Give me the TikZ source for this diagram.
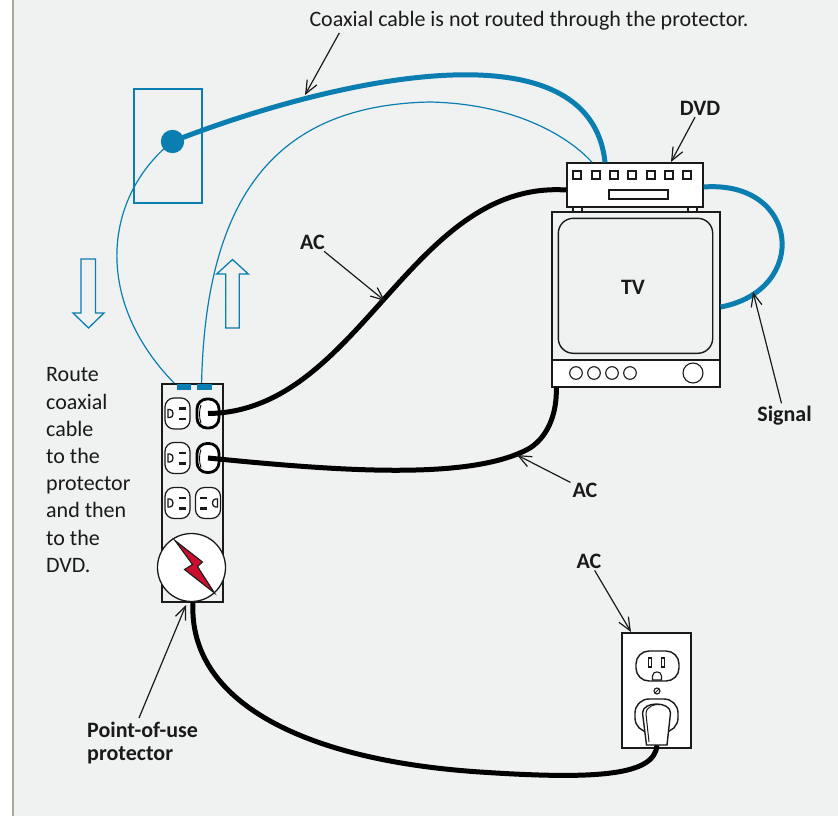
\documentclass[tikz,border=0pt]{standalone}
\usepackage{fontspec}
\setmainfont{Carlito}
\usetikzlibrary{arrows.meta}
\definecolor{paper}{HTML}{F0F2F1}
\definecolor{rule}{HTML}{ADA795}
\definecolor{coax}{HTML}{0A7DB1}
\definecolor{ink}{HTML}{1A1A1A}
\definecolor{boltred}{HTML}{C8102E}

\begin{document}
\begin{tikzpicture}[x=1pt,y=-1pt,
  every node/.style={text=ink},
  lbl/.style={font=\fontsize{22}{24}\selectfont\bfseries, inner sep=2pt},
  txt/.style={font=\fontsize{22}{27.2}\selectfont, inner sep=0pt},
  callout/.style={draw=ink, line width=1.2pt, -{Straight Barb[length=13pt,width=11pt]}},
  accable/.style={draw=black, line width=5pt},
  coaxcable/.style={draw=coax, line width=5pt},
  coaxthin/.style={draw=coax, line width=1.2pt},
  hollow/.style={draw=coax, line width=1.3pt, fill=paper, line join=miter},
  box/.style={draw=ink, line width=1.4pt},
  socket/.style={draw=ink, line width=1.2pt, fill=white, rounded corners=9pt,
    minimum width=25pt, minimum height=31pt, inner sep=0pt},
  plug/.style={draw=black, line width=2.8pt, fill=white, rounded corners=10pt,
    minimum width=22pt, minimum height=29pt, inner sep=0pt},
  pins/.pic={
    \fill[ink] (1,-6.5) rectangle (8.5,-4);
    \fill[ink] (1,4) rectangle (8.5,6.5);
    \draw[ink, line width=1.3pt] (-9.5,-4) -- (-9.5,4) -- (-7.5,4)
      .. controls (-3.5,4) and (-3.5,-4) .. (-7.5,-4) -- cycle;
  },
]
\useasboundingbox (0,0) rectangle (838,816);

% page
\fill[white] (0,0) rectangle (838,816);
\fill[paper] (13,0) rectangle (838,816);
\draw[rule, line width=1.5pt] (13,0) -- (13,816);

% devices: DVD player and TV
\draw[box, fill=white] (573,207) rectangle (582,212);
\draw[box, fill=white] (688,207) rectangle (697,212);
\node[box, fill=white, minimum width=136pt, minimum height=44pt, inner sep=0pt] (dvd) at (635,185) {};
\foreach \sx in {577,596,614,632,651,669,687}
  \draw[ink, line width=1.1pt] ({\sx-4},171) rectangle ({\sx+4},179);
\draw[ink, line width=1.1pt] (609,190) rectangle (668,199);

\node[box, fill=paper, minimum width=168pt, minimum height=175pt, inner sep=0pt] (tv) at (636,299.5) {};
\draw[box] [rounded corners=15pt] (558.3,218.3) rectangle (712.7,353.3);
\draw[box, fill=white] (552,360) rectangle (720,387);
\foreach \bx in {576,594,612,630}
  \draw[ink, line width=1.1pt] (\bx,373) circle[radius=6.3pt];
\draw[ink, line width=1.1pt] (693,373) circle[radius=10pt];
\node[lbl, anchor=base] (tvlbl) at (633,294) {TV};

% coaxial wall jack and the two thin route lines
\node[inner sep=0pt, minimum size=1pt] (tabA) at (184,387) {};
\node[inner sep=0pt, minimum size=1pt] (tabB) at (204.5,387) {};
\node[draw=coax, line width=1.6pt, minimum width=68pt, minimum height=114pt, inner sep=0pt] (plate) at (168,146) {};
\coordinate (jackc) at (172.5,141.5);
\draw[coaxthin] (jackc) .. controls (105,195) and (90,300) .. ([xshift=-6pt]tabA.center);
\draw[coaxthin] ([xshift=-3pt]tabB.center) .. controls (205,185) and (285,105) .. (430,102)
  .. controls (520,104) and (572,140) .. ([xshift=-43pt]dvd.north);
\draw[coaxcable] (jackc) .. controls (330,80) and (590,20) .. ([xshift=-30pt]dvd.north);
\node[circle, fill=coax, minimum size=23.4pt, inner sep=0pt] (jack) at (jackc) {};

% direction arrows
\draw[hollow] (81,259) -- (95.5,259) -- (95.5,313) -- (104,313) -- (88.5,328)
  -- (73,313) -- (81,313) -- cycle;
\draw[hollow] (225.7,328) -- (239.3,328) -- (239.3,274) -- (248.3,274) -- (232.5,259.5)
  -- (216.7,274) -- (225.7,274) -- cycle;

% point-of-use protector strip
\node[box, fill=paper, minimum width=61pt, minimum height=218pt, inner sep=0pt] (strip) at (192.5,493) {};
\fill[coax] (177,384) rectangle (191,390);
\fill[coax] (197,384) rectangle (212,390);
\node[socket] (sockA) at (177.5,413.5) {};
\node[socket] (sockB) at (177.5,458) {};
\node[socket] (sockC) at (177.5,503) {};
\node[socket] (sockD) at (208,503) {};
\pic at (sockA.center) {pins};
\pic at (sockB.center) {pins};
\pic at (sockC.center) {pins};
\pic[xscale=-1] at (sockD.center) {pins};
\node[plug] (plugA) at (208,413.5) {};
\node[plug] (plugB) at (208,458) {};
\draw[black, line width=0.9pt] (201,405) .. controls (199,410) and (199,418) .. (201,423);
\draw[black, line width=0.9pt] (201,449.5) .. controls (199,454.5) and (199,462.5) .. (201,467.5);
\node[circle, draw=ink, line width=1.3pt, fill=white, minimum size=68pt, inner sep=0pt] (surge) at (191.5,567.5) {};
\draw[ink, line width=1.1pt, fill=boltred, line join=miter]
  (175,540.5) -- (202.5,562) -- (197.5,566.5) -- (214.5,593) -- (184.5,569.5) -- (192.5,564.5) -- cycle;

% wall outlet
\node[box, fill=white, minimum width=69pt, minimum height=115pt, inner sep=0pt] (wall) at (656.5,690.5) {};
\draw[box, rounded corners=13pt] (636,651) rectangle (679,681);
\draw[ink, line width=1.1pt] (648.5,658) rectangle (651.5,667);
\draw[ink, line width=1.1pt] (661.5,658) rectangle (664.5,667);
\draw[ink, line width=1.1pt] (652.5,680) -- (652.5,676) .. controls (652.5,670.5) and (661.5,670.5) .. (661.5,676) -- (661.5,680) -- cycle;
\draw[ink, line width=1.1pt] (657,691) circle[radius=3pt];
\draw[ink, line width=1pt] (655,693) -- (659,689);
\draw[box, rounded corners=14pt] (635,699) rectangle (678,732);

% power and signal cables
\coordinate (wallplug) at (657,745);
\draw[accable] (plugA.center) .. controls (360,412) and (410,180) .. ([yshift=-5pt]dvd.west);
\draw[accable] (plugB.center) .. controls (330,470) and (470,482) .. (530,448)
  .. controls (550,435) and (557,410) .. ([xshift=5pt]tv.south west);
\draw[accable] ([xshift=1.5pt]surge.south) .. controls (188,700) and (300,760) .. (480,772)
  .. controls (600,780) and (655,775) .. (wallplug);
\draw[coaxcable] ([yshift=-2pt]dvd.east) .. controls (800,180) and (810,290) .. ([yshift=-7.5pt]tv.east);

% plug in the wall outlet
\draw[box, fill=white] (646.5,745) -- (642.5,713) .. controls (642.5,701) and (670.5,701) .. (670.5,713)
  -- (667,745) -- cycle;
\draw[ink, line width=1pt] (649,742) -- (646,714) .. controls (646,706) and (655,704) .. (660,704.5);

% labels and callouts
\coordinate (coaxtip) at (305,95);
\coordinate (dvdtip) at (671,162);
\coordinate (actipA) at (385,301);
\coordinate (actipB) at (517,455);
\coordinate (actipC) at (631,632);
\coordinate (sigtip) at (753,292);
\coordinate (poutip) at (186,605);

\node[txt, anchor=base] (coaxlbl) at (529,27) {Coaxial cable is not routed through the protector.};
\node[lbl, anchor=base] (dvdlbl) at (700,115) {DVD};
\node[lbl, anchor=base] (aclblA) at (312.5,249) {AC};
\node[lbl, anchor=base] (aclblB) at (585,497) {AC};
\node[lbl, anchor=base] (aclblC) at (589,568) {AC};
\node[lbl, anchor=base] (siglbl) at (784.5,421) {Signal};
\node[lbl, anchor=north west, align=left, inner sep=0pt, font=\fontsize{22}{23}\selectfont\bfseries] (poulbl) at (87,722) {Point-of-use\\protector};
\node[txt, anchor=north west, align=left] (routelbl) at (46,367.5) {Route\\coaxial\\cable\\to the\\protector\\and then\\to the\\DVD.};

\draw[callout] ([xshift=30pt,yshift=-2pt]coaxlbl.south west) -- (coaxtip);
\draw[callout] (dvdlbl) -- (dvdtip);
\draw[callout] (aclblA) -- (actipA);
\draw[callout] (aclblB) -- (actipB);
\draw[callout] (aclblC) -- (actipC);
\draw[callout] (siglbl) -- (sigtip);
\draw[callout] ([xshift=52pt,yshift=4pt]poulbl.north west) -- (poutip);
\end{tikzpicture}
\end{document}
